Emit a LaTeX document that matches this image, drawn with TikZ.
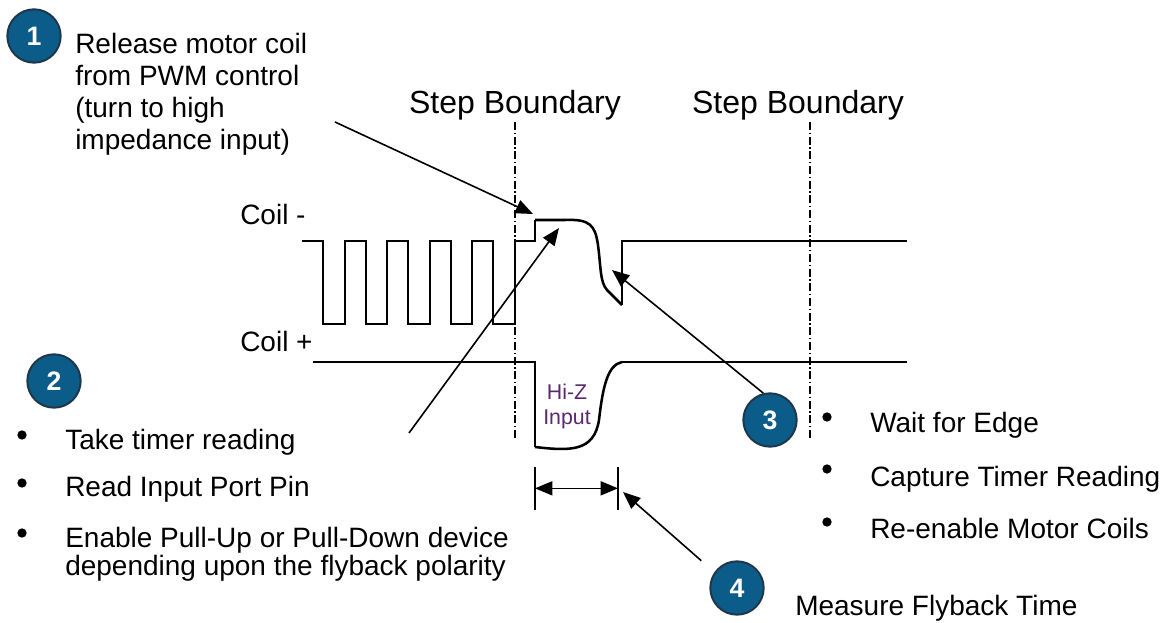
\documentclass[tikz,border=0pt]{standalone}
\usepackage{fontspec}
\setmainfont{Liberation Sans}
\usetikzlibrary{arrows.meta}
\definecolor{numblue}{RGB}{12,92,138}
\definecolor{numrim}{RGB}{30,55,75}
\definecolor{hizcol}{RGB}{90,40,110}
\newcommand{\bodytxt}{\fontsize{21}{24}\selectfont}
\newcommand{\steptxt}{\fontsize{24}{28}\selectfont}

\begin{document}
\begin{tikzpicture}[x=0.75pt,y=-0.75pt,
  num/.style={circle,fill=numblue,draw=numrim,line width=1.5pt,minimum size=40pt,inner sep=0pt,text=white,font=\fontsize{20}{22}\selectfont\bfseries},
  lbl/.style={anchor=base west,inner sep=0pt,font=\bodytxt},
  bullet/.style={circle,fill=black,minimum size=7pt,inner sep=0pt},
  wave/.style={line width=1.5pt},
  bound/.style={line width=0.9pt,dash pattern=on 6pt off 2pt on 1pt off 2pt},
  pointer/.style={line width=1.2pt,-{Triangle[length=13pt,width=10.5pt]}}]
\useasboundingbox (0,0) rectangle (1168,623);

\node[num] (n1) at (34,36) {1};
\node[num] (n2) at (54,381) {2};
\node[num] (n3) at (770,420) {3};
\node[num] (n4) at (737,588) {4};

\node[lbl,anchor=north west,align=left] (rel) at (75,33) {Release motor coil\\from PWM control\\(turn to high\\impedance input)};
\node[anchor=base,inner sep=0pt,font=\steptxt] (stepA) at (515,114) {Step Boundary};
\node[anchor=base,inner sep=0pt,font=\steptxt] (stepB) at (798,114) {Step Boundary};
\node[lbl] (coilm) at (240,225) {Coil -};
\node[lbl] (coilp) at (240,352) {Coil +};
\node[anchor=base,inner sep=0pt,text=hizcol,font=\fontsize{16}{18}\selectfont] (hiz) at (567,400) {Hi-Z};
\node[anchor=base,inner sep=0pt,text=hizcol,font=\fontsize{16}{18}\selectfont] (inp) at (567,425) {Input};

\draw[bound] (515,122) -- (515,440);
\draw[bound] (810,122) -- (810,440);

\draw[wave] (302,241) \foreach \i in {0,...,4} {-- ({323+42.5*\i},241) -- ({323+42.5*\i},324) -- ({344.5+42.5*\i},324) -- ({344.5+42.5*\i},241)} -- (535,241) -- (535,220);
\draw[line width=1.9pt] (535,220) -- (565,220) .. controls (590,219) and (595,225) .. (598,245) .. controls (601,268) and (600,282) .. (607,290) -- (622,305);
\draw[wave] (622,305) -- (622,241) -- (907,241);
\draw[wave] (313,362) -- (535,362) -- (535,447);
\draw[line width=1.9pt] (535,447) .. controls (570,451) and (594,452) .. (599,420) .. controls (603,385) and (608,365) .. (622,362);
\draw[wave] (622,362) -- (907,362);

\coordinate (t1) at (335,122);
\coordinate (h1) at (533,214);
\coordinate (t2) at (409,433);
\coordinate (h2) at (559,228);
\coordinate (h3) at (612,270);
\coordinate (h4) at (623,492);
\draw[pointer] (t1) -- (h1);
\draw[pointer] (t2) -- (h2);
\draw[pointer] (n3.104) -- (h3);
\draw[pointer,shorten <=13pt] (n4.145) -- (h4);

\coordinate (m1) at (535,467);
\coordinate (m2) at (618,467);
\draw[line width=1.2pt] (m1) -- ++(0,43);
\draw[line width=1.2pt] (m2) -- ++(0,43);
\draw[line width=1.2pt,{Triangle[length=13pt,width=10.5pt]}-{Triangle[length=13pt,width=10.5pt]}] ([yshift=-16pt]m1) -- ([yshift=-16pt]m2);

\node[bullet] (b1) at (22,435) {};
\node[bullet] (b2) at (22,483) {};
\node[bullet] (b3) at (22,533) {};
\node[lbl] (tk) at (65,450) {Take timer reading};
\node[lbl] (rd) at (65,497) {Read Input Port Pin};
\node[lbl,anchor=north west,align=left,font=\fontsize{21}{21}\selectfont] (en) at (65,527) {Enable Pull-Up or Pull-Down device\\depending upon the flyback polarity};

\node[bullet] (b4) at (827,417) {};
\node[bullet] (b5) at (827,469) {};
\node[bullet] (b6) at (827,522) {};
\node[lbl] (wt) at (870,433) {Wait for Edge};
\node[lbl] (cp) at (870,487) {Capture Timer Reading};
\node[lbl] (re) at (870,538) {Re-enable Motor Coils};
\node[lbl] (ms) at (795,615) {Measure Flyback Time};
\end{tikzpicture}
\end{document}
